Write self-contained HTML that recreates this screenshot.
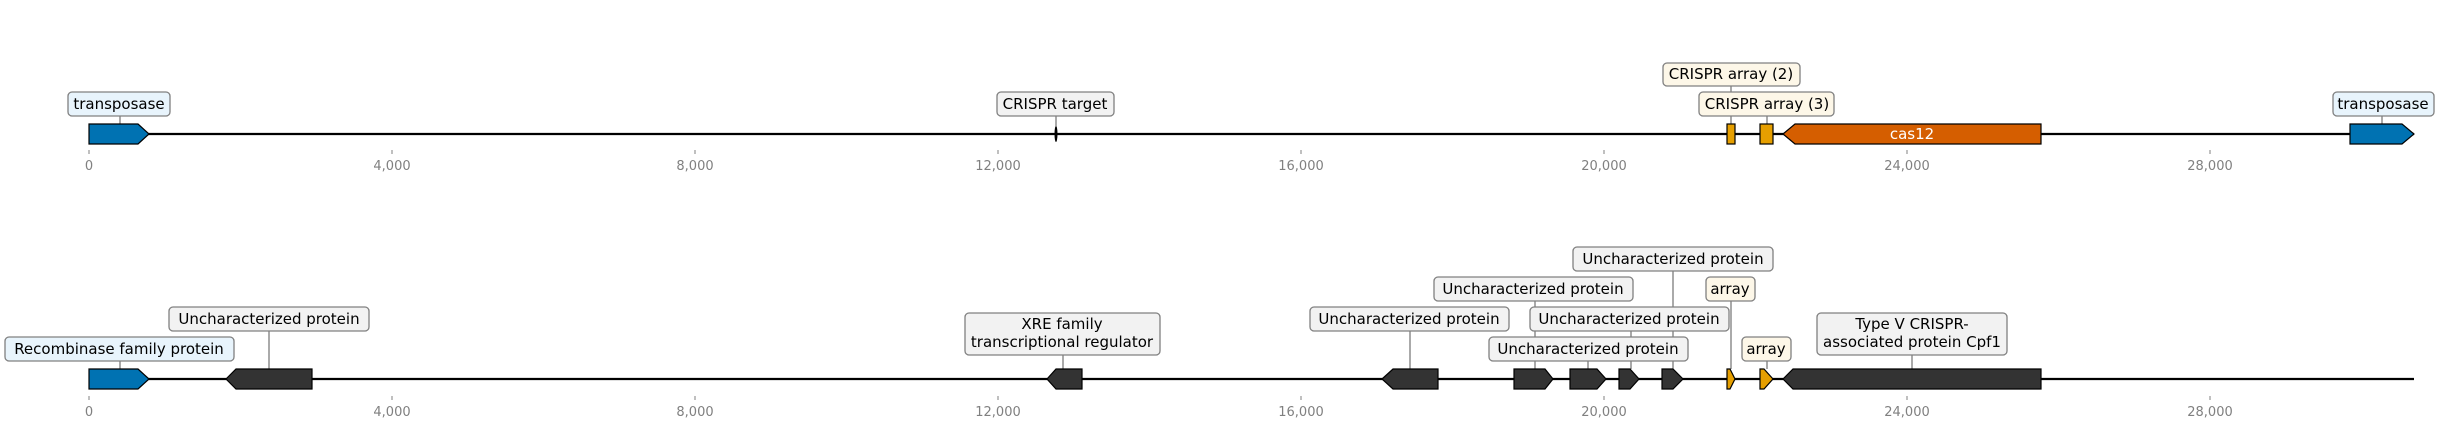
<!DOCTYPE html>
<html><head><meta charset="utf-8"><style>
html,body{margin:0;padding:0;background:#fff;}
svg{display:block;}
text{font-family:"DejaVu Sans","Liberation Sans",sans-serif;}
.lb{font-size:15px;fill:#000;text-anchor:middle;}
.ax{font-size:13px;fill:#808080;text-anchor:middle;}
.bb{fill:#e8f4fc;stroke:#808080;stroke-width:1.3;}
.bg{fill:#f2f2f2;stroke:#808080;stroke-width:1.3;}
.by{fill:#fdf7e8;stroke:#808080;stroke-width:1.3;}
.cn{stroke:#555;stroke-width:1;}
.g{stroke:#000;stroke-width:1.2;}
</style></head><body>
<svg width="2438" height="428" viewBox="0 0 2438 428" xmlns="http://www.w3.org/2000/svg">
<!-- TOP TRACK -->
<line x1="89" y1="134" x2="2414" y2="134" stroke="#000" stroke-width="2.2"/>
<g stroke="#808080" stroke-width="1">
<line x1="89" y1="150" x2="89" y2="154"/><line x1="392" y1="150" x2="392" y2="154"/><line x1="695" y1="150" x2="695" y2="154"/><line x1="998" y1="150" x2="998" y2="154"/><line x1="1301" y1="150" x2="1301" y2="154"/><line x1="1604" y1="150" x2="1604" y2="154"/><line x1="1907" y1="150" x2="1907" y2="154"/><line x1="2210" y1="150" x2="2210" y2="154"/>
</g>
<g class="ax"><text x="89" y="170">0</text><text x="392" y="170">4,000</text><text x="695" y="170">8,000</text><text x="998" y="170">12,000</text><text x="1301" y="170">16,000</text><text x="1604" y="170">20,000</text><text x="1907" y="170">24,000</text><text x="2210" y="170">28,000</text></g>
<line class="cn" x1="120" y1="116" x2="120" y2="124"/>
<line class="cn" x1="1056" y1="116" x2="1056" y2="126"/>
<line class="cn" x1="1731" y1="86" x2="1731" y2="124"/>
<line class="cn" x1="1767" y1="116" x2="1767" y2="124"/>
<line class="cn" x1="2382" y1="116" x2="2382" y2="124"/>
<polygon class="g" fill="#0072b2" points="89,124 138,124 149,134 138,144 89,144"/>
<ellipse cx="1056" cy="134" rx="1.5" ry="8" fill="#000"/>
<rect class="g" fill="#e69f00" x="1727" y="124" width="8" height="20"/>
<rect class="g" fill="#e69f00" x="1760" y="124" width="13" height="20"/>
<polygon class="g" fill="#d55e00" points="1783,134 1795,124 2041,124 2041,144 1795,144"/>
<text x="1912" y="139" style="font-size:15px;fill:#fff;text-anchor:middle">cas12</text>
<polygon class="g" fill="#0072b2" points="2350,124 2402,124 2414,134 2402,144 2350,144"/>
<rect class="bb" x="68" y="92" width="102" height="24" rx="4"/><text class="lb" x="119" y="109">transposase</text>
<rect class="bg" x="997" y="92" width="117" height="24" rx="4"/><text class="lb" x="1055" y="109">CRISPR target</text>
<rect class="by" x="1663" y="63" width="137" height="23" rx="4"/><text class="lb" x="1731" y="79">CRISPR array (2)</text>
<rect class="by" x="1699" y="92" width="135" height="24" rx="4"/><text class="lb" x="1767" y="109">CRISPR array (3)</text>
<rect class="bb" x="2333" y="92" width="101" height="24" rx="4"/><text class="lb" x="2383" y="109">transposase</text>

<!-- BOTTOM TRACK -->
<line x1="89" y1="379" x2="2414" y2="379" stroke="#000" stroke-width="2.2"/>
<g stroke="#808080" stroke-width="1">
<line x1="89" y1="396" x2="89" y2="400"/><line x1="392" y1="396" x2="392" y2="400"/><line x1="695" y1="396" x2="695" y2="400"/><line x1="998" y1="396" x2="998" y2="400"/><line x1="1301" y1="396" x2="1301" y2="400"/><line x1="1604" y1="396" x2="1604" y2="400"/><line x1="1907" y1="396" x2="1907" y2="400"/><line x1="2210" y1="396" x2="2210" y2="400"/>
</g>
<g class="ax"><text x="89" y="416">0</text><text x="392" y="416">4,000</text><text x="695" y="416">8,000</text><text x="998" y="416">12,000</text><text x="1301" y="416">16,000</text><text x="1604" y="416">20,000</text><text x="1907" y="416">24,000</text><text x="2210" y="416">28,000</text></g>
<line class="cn" x1="120" y1="361" x2="120" y2="369"/>
<line class="cn" x1="269" y1="331" x2="269" y2="369"/>
<line class="cn" x1="1063" y1="355" x2="1063" y2="369"/>
<line class="cn" x1="1410" y1="331" x2="1410" y2="369"/>
<line class="cn" x1="1535" y1="301" x2="1535" y2="369"/>
<line class="cn" x1="1588" y1="361" x2="1588" y2="369"/>
<line class="cn" x1="1631" y1="331" x2="1631" y2="369"/>
<line class="cn" x1="1673" y1="271" x2="1673" y2="369"/>
<line class="cn" x1="1731" y1="301" x2="1731" y2="369"/>
<line class="cn" x1="1767" y1="361" x2="1767" y2="369"/>
<line class="cn" x1="1912" y1="355" x2="1912" y2="369"/>
<polygon class="g" fill="#0072b2" points="89,369 138,369 149,379 138,389 89,389"/>
<polygon class="g" fill="#333" points="226,379 236,369 312,369 312,389 236,389"/>
<polygon class="g" fill="#333" points="1047,379 1056,369 1082,369 1082,389 1056,389"/>
<polygon class="g" fill="#333" points="1382,379 1393,369 1438,369 1438,389 1393,389"/>
<polygon class="g" fill="#333" points="1514,369 1545,369 1553,379 1545,389 1514,389"/>
<polygon class="g" fill="#333" points="1570,369 1597,369 1606,379 1597,389 1570,389"/>
<polygon class="g" fill="#333" points="1619,369 1630,369 1639,379 1630,389 1619,389"/>
<polygon class="g" fill="#333" points="1662,369 1673,369 1683,379 1673,389 1662,389"/>
<polygon class="g" fill="#e69f00" points="1727,369 1730,369 1735,379 1730,389 1727,389"/>
<polygon class="g" fill="#e69f00" points="1760,369 1764,369 1773,379 1764,389 1760,389"/>
<polygon class="g" fill="#333" points="1783,379 1793,369 2041,369 2041,389 1793,389"/>
<rect class="bb" x="5" y="337" width="229" height="24" rx="4"/><text class="lb" x="119" y="354">Recombinase family protein</text>
<rect class="bg" x="169" y="307" width="200" height="24" rx="4"/><text class="lb" x="269" y="324">Uncharacterized protein</text>
<rect class="bg" x="965" y="313" width="195" height="42" rx="4"/><text class="lb" x="1062" y="329">XRE family</text><text class="lb" x="1062" y="347">transcriptional regulator</text>
<rect class="bg" x="1310" y="307" width="199" height="24" rx="4"/><text class="lb" x="1409" y="324">Uncharacterized protein</text>
<rect class="bg" x="1434" y="277" width="199" height="24" rx="4"/><text class="lb" x="1533" y="294">Uncharacterized protein</text>
<rect class="bg" x="1573" y="247" width="200" height="24" rx="4"/><text class="lb" x="1673" y="264">Uncharacterized protein</text>
<rect class="bg" x="1530" y="307" width="199" height="24" rx="4"/><text class="lb" x="1629" y="324">Uncharacterized protein</text>
<rect class="bg" x="1489" y="337" width="199" height="24" rx="4"/><text class="lb" x="1588" y="354">Uncharacterized protein</text>
<rect class="by" x="1706" y="277" width="49" height="24" rx="4"/><text class="lb" x="1730" y="294">array</text>
<rect class="by" x="1742" y="337" width="49" height="24" rx="4"/><text class="lb" x="1766" y="354">array</text>
<rect class="bg" x="1817" y="313" width="190" height="42" rx="4"/><text class="lb" x="1912" y="329">Type V CRISPR-</text><text class="lb" x="1912" y="347">associated protein Cpf1</text>
</svg>
</body></html>
